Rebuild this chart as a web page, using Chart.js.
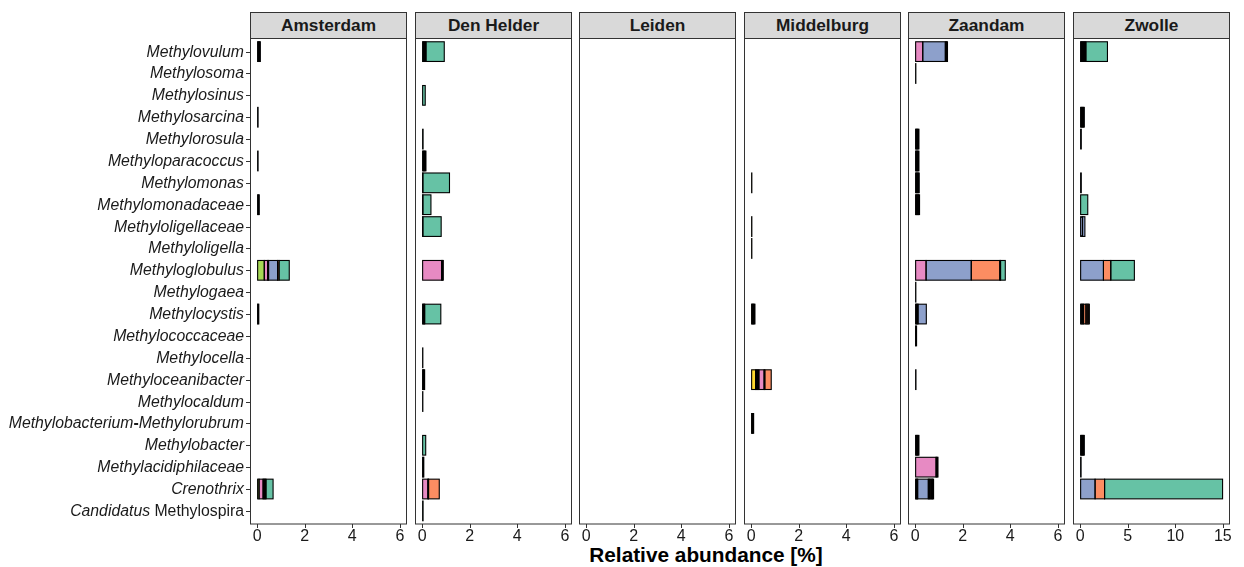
<!DOCTYPE html>
<html>
<head>
<meta charset="utf-8">
<script src="https://cdn.jsdelivr.net/npm/chart.js@4/dist/chart.umd.min.js"></script>
<style>
  body { margin: 0; background: #fff; width: 1244px; height: 567px; position: relative; overflow: hidden; font-family: "Liberation Sans", Arial, sans-serif; }
  canvas { position: absolute; top: 0; }
  .strip { position: absolute; top: 12px; height: 27px; width: 157px; box-sizing: border-box; border: 1px solid #333; background: #d9d9d9;
           font-weight: bold; font-size: 17.3px; color: #1a1a1a; text-align: center; line-height: 25px; }
  #xtitle { position: absolute; left: 456px; width: 500px; top: 543px; text-align: center; font-weight: bold; font-size: 20.8px; color: #000; }
</style>
</head>
<body>
<div id="xtitle">Relative abundance [%]</div>
<script>
// genera (y axis, top to bottom)
const categories = [
  "Methylovulum", "Methylosoma", "Methylosinus", "Methylosarcina", "Methylorosula",
  "Methyloparacoccus", "Methylomonas", "Methylomonadaceae", "Methyloligellaceae", "Methyloligella",
  "Methyloglobulus", "Methylogaea", "Methylocystis", "Methylococcaceae", "Methylocella",
  "Methyloceanibacter", "Methylocaldum", "Methylobacterium-Methylorubrum", "Methylobacter",
  "Methylacidiphilaceae", "Crenothrix", "Candidatus Methylospira"
];
const panelNames = ["Amsterdam", "Den Helder", "Leiden", "Middelburg", "Zaandam", "Zwolle"];
const ticksSmall = [0, 2, 4, 6];
const ticksZwolle = [0, 5, 10, 15];

// fill colours (Set2)
const colors = { G: "#66C2A5", O: "#FC8D62", B: "#8DA0CB", P: "#E78AC3", L: "#A6D854", Y: "#FFD92F" };

// segments of each bar, left to right: [colour, value %]
const amsterdam = [
  ["Methylovulum", [["B", 0.045], ["B", 0.045], ["B", 0.045]]],
  ["Methylosarcina", [["B", 0.04]]],
  ["Methyloparacoccus", [["B", 0.04]]],
  ["Methylomonadaceae", [["B", 0.045], ["B", 0.045]]],
  ["Methyloglobulus", [["L", 0.3], ["P", 0.14], ["P", 0.04], ["B", 0.38], ["O", 0.06], ["G", 0.43]]],
  ["Methylocystis", [["B", 0.035], ["B", 0.035]]],
  ["Crenothrix", [["L", 0.08], ["P", 0.17], ["B", 0.04], ["B", 0.04], ["B", 0.04], ["G", 0.3]]]
];
const denHelder = [
  ["Methylovulum", [["G", 0.04], ["G", 0.04], ["G", 0.04], ["G", 0.04], ["G", 0.77]]],
  ["Methylosinus", [["G", 0.13]]],
  ["Methylorosula", [["G", 0.04]]],
  ["Methyloparacoccus", [["G", 0.04], ["G", 0.04], ["G", 0.04], ["G", 0.04]]],
  ["Methylomonas", [["G", 0.03], ["G", 1.12]]],
  ["Methylomonadaceae", [["G", 0.03], ["G", 0.34]]],
  ["Methyloligellaceae", [["G", 0.03], ["G", 0.77]]],
  ["Methyloglobulus", [["P", 0.82], ["P", 0.035], ["P", 0.035]]],
  ["Methylocystis", [["G", 0.035], ["G", 0.035], ["G", 0.035], ["G", 0.68]]],
  ["Methylocella", [["G", 0.03]]],
  ["Methyloceanibacter", [["G", 0.035], ["G", 0.035], ["G", 0.035]]],
  ["Methylocaldum", [["G", 0.03]]],
  ["Methylobacter", [["G", 0.15]]],
  ["Methylacidiphilaceae", [["G", 0.035], ["G", 0.035]]],
  ["Crenothrix", [["P", 0.24], ["O", 0.03], ["O", 0.45]]],
  ["Candidatus Methylospira", [["G", 0.04]]]
];
const leiden = [];
const middelburg = [
  ["Methylomonas", [["Y", 0.03]]],
  ["Methyloligellaceae", [["Y", 0.03]]],
  ["Methyloligella", [["Y", 0.03]]],
  ["Methylocystis", [["Y", 0.04], ["Y", 0.04], ["Y", 0.04], ["Y", 0.04]]],
  ["Methyloceanibacter", [["Y", 0.19], ["P", 0.045], ["P", 0.045], ["P", 0.045], ["P", 0.22], ["O", 0.03], ["O", 0.27]]],
  ["Methylobacterium-Methylorubrum", [["Y", 0.035], ["Y", 0.035], ["Y", 0.035]]]
];
const zaandam = [
  ["Methylovulum", [["P", 0.32], ["B", 0.95], ["O", 0.045], ["O", 0.045]]],
  ["Methylosoma", [["B", 0.03]]],
  ["Methylorosula", [["B", 0.04], ["B", 0.04], ["B", 0.04], ["B", 0.04]]],
  ["Methyloparacoccus", [["B", 0.04], ["B", 0.04], ["B", 0.04], ["B", 0.04]]],
  ["Methylomonas", [["B", 0.043], ["B", 0.043], ["B", 0.043], ["B", 0.043]]],
  ["Methylomonadaceae", [["O", 0.037], ["O", 0.037], ["O", 0.037], ["O", 0.037], ["O", 0.037]]],
  ["Methyloglobulus", [["P", 0.46], ["B", 1.9], ["O", 1.2], ["O", 0.03], ["G", 0.2]]],
  ["Methylogaea", [["B", 0.03]]],
  ["Methylocystis", [["P", 0.04], ["P", 0.04], ["P", 0.04], ["B", 0.35]]],
  ["Methylococcaceae", [["B", 0.03], ["B", 0.03]]],
  ["Methyloceanibacter", [["B", 0.035]]],
  ["Methylobacter", [["B", 0.04], ["B", 0.04], ["B", 0.04], ["B", 0.04]]],
  ["Methylacidiphilaceae", [["P", 0.88], ["P", 0.04], ["P", 0.04]]],
  ["Crenothrix", [["P", 0.035], ["P", 0.035], ["P", 0.035], ["B", 0.45], ["B", 0.04], ["B", 0.04], ["O", 0.06], ["O", 0.04], ["O", 0.04]]]
];
const zwolle = [
  ["Methylovulum", [["B", 0.1], ["B", 0.1], ["B", 0.1], ["B", 0.1], ["B", 0.1], ["B", 0.1], ["G", 2.27]]],
  ["Methylosarcina", [["B", 0.11], ["B", 0.11], ["B", 0.11], ["B", 0.11]]],
  ["Methylorosula", [["B", 0.12]]],
  ["Methylomonas", [["B", 0.12]]],
  ["Methylomonadaceae", [["G", 0.8]]],
  ["Methyloligellaceae", [["B", 0.25], ["B", 0.25]]],
  ["Methyloglobulus", [["B", 2.45], ["O", 0.77], ["G", 2.48]]],
  ["Methylocystis", [["B", 0.12], ["B", 0.12], ["B", 0.12], ["O", 0.25], ["O", 0.12], ["O", 0.12], ["O", 0.12]]],
  ["Methylobacter", [["B", 0.11], ["B", 0.11], ["B", 0.11], ["B", 0.11]]],
  ["Methylacidiphilaceae", [["B", 0.1]]],
  ["Crenothrix", [["B", 1.57], ["O", 1.0], ["G", 12.4]]]
];
const panelData = [amsterdam, denHelder, leiden, middelburg, zaandam, zwolle];

// --- layout ---
const panelLeft = [250, 415, 579, 744, 908, 1073];
const panelWidth = 157;
const frameTop = 38.5, frameBottom = 524;
const catStep = (frameBottom - frameTop) / 22.2; // ggplot pads 0.6 of a category each end
const areaTop = frameTop + 0.1 * catStep;
const areaBottom = frameBottom - 0.1 * catStep;
const FONT = "'Liberation Sans', Arial, sans-serif";

// one dataset per segment slot, so each bar stacks left to right
function buildDatasets(bars) {
  let maxSeg = 0;
  bars.forEach((b) => { maxSeg = Math.max(maxSeg, b[1].length); });
  let sets = [];
  for (let k = 0; k < maxSeg; k++) {
    let data = categories.map(() => null);
    let bg = categories.map(() => "#fff");
    bars.forEach((b) => {
      let idx = categories.indexOf(b[0]);
      let seg = b[1][k];
      if (seg) {
        data[idx] = seg[1];
        bg[idx] = colors[seg[0]];
      }
    });
    sets.push({
      data: data,
      backgroundColor: bg,
      borderWidth: 0,
      barPercentage: 0.9,
      categoryPercentage: 1
    });
  }
  return sets;
}

// y label pieces: genus names italic, "Candidatus" only italic, bold hyphen
function labelParts(label) {
  if (label.startsWith("Candidatus ")) return [["italic", "Candidatus "], ["normal", label.slice(11)]];
  if (label.includes("-")) {
    let p = label.split("-");
    return [["italic", p[0]], ["bold", "-"], ["italic", p[1]]];
  }
  return [["italic", label]];
}

// black outline centred on each segment edge, like ggplot's colour = "black"
const outlinePlugin = {
  id: "outline",
  afterDatasetsDraw(chart) {
    const ctx = chart.ctx;
    ctx.save();
    ctx.strokeStyle = "#000";
    ctx.lineWidth = 1.1;
    chart.data.datasets.forEach((ds, di) => {
      chart.getDatasetMeta(di).data.forEach((el, i) => {
        if (ds.data[i] == null) return;
        const p = el.getProps(["x", "y", "base", "height"], true);
        ctx.strokeRect(p.base, p.y - p.height / 2, p.x - p.base, p.height);
      });
    });
    ctx.restore();
  }
};

const framePlugin = {
  id: "frame",
  afterDraw(chart) {
    const ctx = chart.ctx;
    const a = chart.chartArea;
    const xs = chart.scales.x;
    ctx.save();
    ctx.strokeStyle = "#333";
    ctx.lineWidth = 1;
    ctx.strokeRect(Math.round(a.left) + 0.5, frameTop, Math.round(a.right - a.left) - 1, frameBottom - frameTop);
    // x tick marks
    xs.ticks.forEach((t) => {
      let px = Math.round(xs.getPixelForValue(t.value)) + 0.5;
      ctx.beginPath();
      ctx.moveTo(px, frameBottom);
      ctx.lineTo(px, frameBottom + 4);
      ctx.stroke();
    });
    // y labels only on the first panel
    if (chart.options.scales.y.display) {
      const ys = chart.scales.y;
      categories.forEach((label, i) => {
        let py = Math.round(ys.getPixelForValue(i)) + 0.5;
        ctx.strokeStyle = "#333";
        ctx.beginPath();
        ctx.moveTo(a.left - 4, py);
        ctx.lineTo(a.left, py);
        ctx.stroke();
        let parts = labelParts(label);
        let widths = parts.map((p) => {
          ctx.font = p[0] + " 15.8px " + FONT;
          return ctx.measureText(p[1]).width;
        });
        let x = a.left - 6 - widths.reduce((s, w) => s + w, 0);
        ctx.fillStyle = "#1a1a1a";
        ctx.textBaseline = "middle";
        parts.forEach((p, j) => {
          ctx.font = p[0] + " 15.8px " + FONT;
          ctx.fillText(p[1], x, py);
          x += widths[j];
        });
      });
    }
    ctx.restore();
  }
};

panelNames.forEach((name, i) => {
  const first = i === 0;
  const padL = first ? 0 : 20;
  const canvas = document.createElement("canvas");
  const canvasLeft = first ? 0 : panelLeft[i] - padL;
  canvas.width = first ? panelLeft[0] + panelWidth + 20 : panelWidth + 40;
  canvas.height = 567;
  canvas.style.left = canvasLeft + "px";
  document.body.appendChild(canvas);

  const strip = document.createElement("div");
  strip.className = "strip";
  strip.style.left = panelLeft[i] + "px";
  strip.textContent = name;
  document.body.appendChild(strip);

  const isZwolle = name === "Zwolle";
  const tickVals = isZwolle ? ticksZwolle : ticksSmall;

  const yScale = {
    type: "category",
    stacked: true,
    offset: true,
    display: first,
    grid: { display: false },
    border: { display: false },
    ticks: { color: "transparent", autoSkip: false }
  };
  if (first) yScale.afterFit = (s) => { s.width = panelLeft[0]; };

  new Chart(canvas.getContext("2d"), {
    type: "bar",
    data: { labels: categories, datasets: buildDatasets(panelData[i]) },
    options: {
      indexAxis: "y",
      responsive: false,
      animation: false,
      devicePixelRatio: 1,
      layout: { padding: { left: padL, right: 20, top: areaTop, bottom: 0 } },
      plugins: { legend: { display: false }, tooltip: { enabled: false } },
      scales: {
        x: {
          type: "linear",
          stacked: true,
          min: isZwolle ? -0.75 : -0.3,
          max: isZwolle ? 15.75 : 6.3,
          afterBuildTicks: (s) => { s.ticks = tickVals.map((v) => ({ value: v })); },
          afterFit: (s) => { s.height = 567 - areaBottom; },
          grid: { drawOnChartArea: false, drawTicks: true, tickLength: 5, color: "transparent" },
          border: { display: false },
          ticks: { font: { size: 16, family: FONT }, color: "#1a1a1a", padding: 0, autoSkip: false, maxRotation: 0 }
        },
        y: yScale
      }
    },
    plugins: [outlinePlugin, framePlugin]
  });
});
</script>
</body>
</html>
